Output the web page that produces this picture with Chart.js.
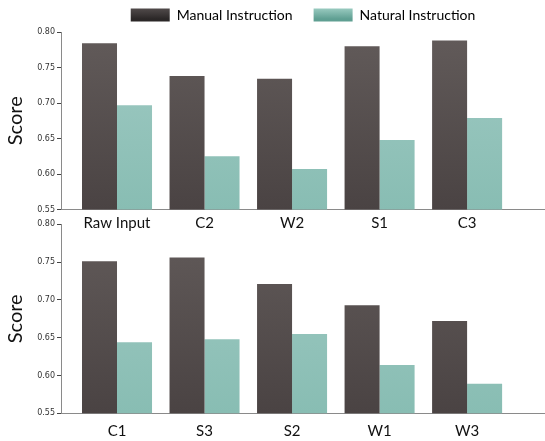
<!DOCTYPE html>
<html>
<head>
<meta charset="utf-8">
<script src="https://cdn.jsdelivr.net/npm/chart.js@4.4.1/dist/chart.umd.min.js"></script>
<style>
  html, body { margin: 0; padding: 0; background: #fff; }
  #wrap { position: relative; width: 545px; height: 441px; overflow: hidden; }
  .box { position: absolute; left: 0; width: 545px; }
  #topBox { top: 0; height: 235px; }
  #bottomBox { top: 215px; height: 226px; }
</style>
</head>
<body>
<div id="wrap">
  <div class="box" id="topBox"><canvas id="topCanvas"></canvas></div>
  <div class="box" id="bottomBox"><canvas id="bottomCanvas"></canvas></div>
</div>
<script>
// chart data
const topCategories = ['Raw Input', 'C2', 'W2', 'S1', 'C3'];
const topManual = [0.784, 0.738, 0.734, 0.780, 0.788];
const topNatural = [0.697, 0.625, 0.607, 0.648, 0.679];

const bottomCategories = ['C1', 'S3', 'S2', 'W1', 'W3'];
const bottomManual = [0.751, 0.756, 0.721, 0.693, 0.672];
const bottomNatural = [0.644, 0.648, 0.655, 0.614, 0.589];

const seriesNames = ['Manual Instruction', 'Natural Instruction'];
const yTicks = [0.55, 0.60, 0.65, 0.70, 0.75, 0.80];

const FONT = 'Lato, "Open Sans", sans-serif';

// bar fill: vertical gradient over the plot area
function barGradient(top, bottom) {
    return function (ctx) {
        const area = ctx.chart.chartArea;
        if (!area) return bottom;
        const g = ctx.chart.ctx.createLinearGradient(0, area.top, 0, area.bottom);
        g.addColorStop(0, top);
        g.addColorStop(1, bottom);
        return g;
    };
}

function makeChart(canvasId, categories, manual, natural, opts) {
    const canvas = document.getElementById(canvasId);
    const ctx = canvas.getContext('2d');

    return new Chart(ctx, {
        type: 'bar',
        data: {
            datasets: [{
                label: seriesNames[0],
                data: manual.map((v, i) => ({ x: i, y: v })),
                backgroundColor: barGradient('#625b5a', '#4a4343'),
                borderWidth: 0
            }, {
                label: seriesNames[1],
                data: natural.map((v, i) => ({ x: i, y: v })),
                backgroundColor: barGradient('#a0cac3', '#88bdb3'),
                borderWidth: 0
            }]
        },
        options: {
            responsive: true,
            maintainAspectRatio: false,
            animation: false,
            devicePixelRatio: 1,
            datasets: {
                bar: {
                    categoryPercentage: 0.8,
                    barPercentage: 1.0
                }
            },
            layout: {
                padding: { top: opts.padTop, right: 0, bottom: 0, left: 0 }
            },
            plugins: {
                tooltip: { enabled: false },
                legend: {
                    display: opts.legend,
                    position: 'top',
                    fullSize: false,
                    labels: {
                        boxWidth: 39,
                        boxHeight: 13,
                        padding: 21,
                        color: '#111',
                        font: { family: FONT, size: 14 },
                        generateLabels(chart) {
                            const c = chart.ctx;
                            const swatches = [['#5a5353', '#2b2727'], ['#a6d4ca', '#5f9f92']];
                            return seriesNames.map((name, i) => {
                                const g = c.createLinearGradient(0, 6, 0, 19);
                                g.addColorStop(0, swatches[i][0]);
                                g.addColorStop(1, swatches[i][1]);
                                return {
                                    text: name,
                                    fillStyle: g,
                                    strokeStyle: 'rgba(0,0,0,0)',
                                    lineWidth: 0,
                                    datasetIndex: i,
                                    hidden: false
                                };
                            });
                        }
                    }
                }
            },
            scales: {
                x: {
                    type: 'linear',
                    offset: false,
                    min: -0.64,
                    max: 4.89,
                    grid: { display: true, drawOnChartArea: false, drawTicks: false },
                    border: { display: true, color: '#8a8a8a', width: 1 },
                    afterBuildTicks(scale) {
                        scale.ticks = categories.map((_, i) => ({ value: i }));
                    },
                    afterFit(scale) {
                        scale.height = opts.xHeight;
                    },
                    ticks: {
                        autoSkip: false,
                        maxRotation: 0,
                        padding: opts.xPad,
                        color: '#111',
                        font: { family: FONT, size: 15 },
                        callback: (v) => categories[v]
                    }
                },
                y: {
                    min: 0.55,
                    max: 0.80,
                    afterBuildTicks(scale) {
                        scale.ticks = yTicks.map(v => ({ value: v }));
                    },
                    afterFit(scale) {
                        scale.width = 61;
                    },
                    grid: { display: true, drawOnChartArea: false, drawTicks: true, tickLength: 4, color: '#444' },
                    border: { display: true, color: '#8a8a8a', width: 1 },
                    ticks: {
                        padding: 2,
                        color: '#333',
                        font: { family: '"DejaVu Sans", sans-serif', size: 8 },
                        callback: (v) => v.toFixed(2)
                    },
                    title: {
                        display: true,
                        text: 'Score',
                        color: '#111',
                        padding: { top: 4, bottom: 0 },
                        font: { family: FONT, size: 20 }
                    }
                }
            }
        }
    });
}

makeChart('topCanvas', topCategories, topManual, topNatural,
    { legend: true, padTop: -13, xHeight: 25.5, xPad: 5 });
makeChart('bottomCanvas', bottomCategories, bottomManual, bottomNatural,
    { legend: false, padTop: 9.3, xHeight: 27.7, xPad: 9 });
</script>
</body>
</html>
